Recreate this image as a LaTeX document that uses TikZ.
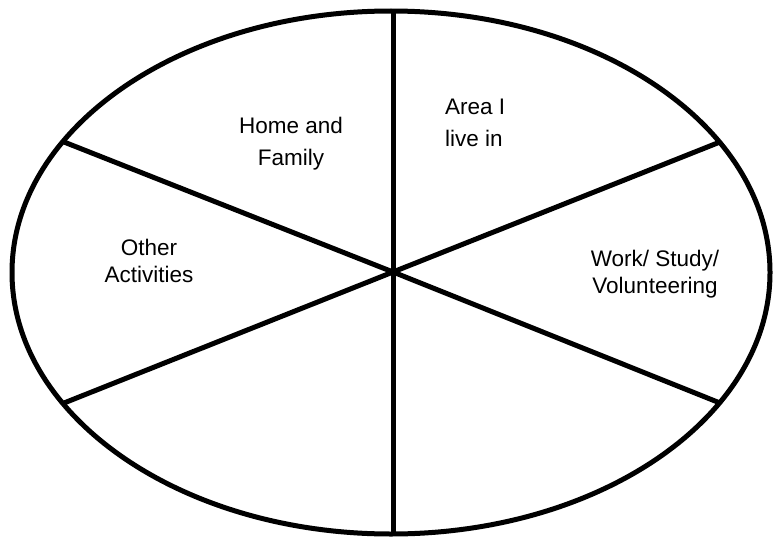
\documentclass[tikz,border=0pt]{standalone}
\usepackage{fontspec}
\setmainfont{Liberation Sans}
\begin{document}
\begin{tikzpicture}[x=1pt,y=-1pt,
  rim/.style={line width=5pt},
  spoke/.style={line width=5pt},
  lbl/.style={inner sep=0pt,font=\fontsize{22.5}{32}\selectfont},
  lbltight/.style={inner sep=0pt,font=\fontsize{22.5}{27}\selectfont}]
\useasboundingbox (0,0) rectangle (773,543);
\draw[rim] (391,272.5) ellipse [x radius=379, y radius=261.5];
\coordinate (c) at (393,272);
\coordinate (top) at (393,12);
\coordinate (bot) at (393,533);
\coordinate (ul) at (64,142);
\coordinate (ur) at (720,142);
\coordinate (ll) at (64,403);
\coordinate (lr) at (720,403);
\foreach \p in {top,bot,ul,ur,ll,lr} \draw[spoke] (c) -- (\p);
\node[lbl,align=center] (home) at (291,144) {Home and\\Family};
\node[lbl,align=left,anchor=west] (area) at (445,123) {Area I\\live in};
\node[lbltight,align=center] (other) at (149,261) {Other\\Activities};
\node[lbltight,align=center] (work) at (655,274) {Work/ Study/\\Volunteering};
\end{tikzpicture}
\end{document}
